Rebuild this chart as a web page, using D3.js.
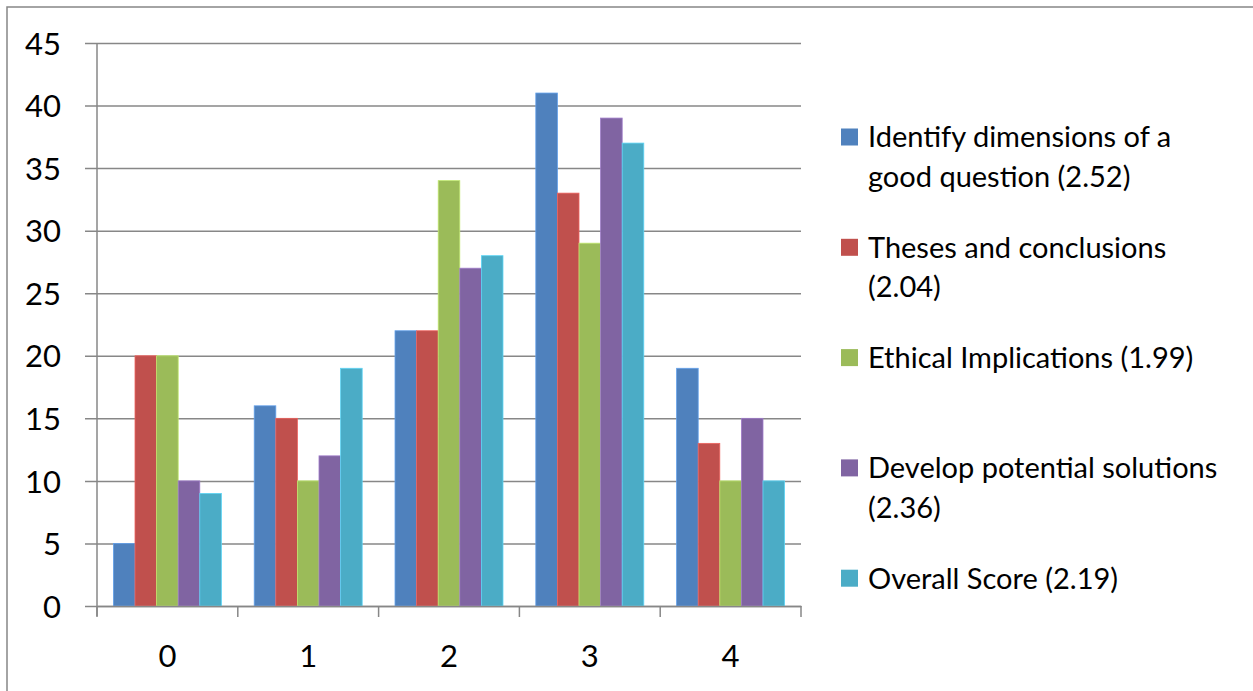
<!DOCTYPE html>
<html>
<head>
<meta charset="utf-8">
<script src="https://cdn.jsdelivr.net/npm/d3@7"></script>
<style>
  html, body { margin: 0; padding: 0; background: #fff; }
  svg { display: block; }
  text { font-family: Lato, "Open Sans", "Noto Sans", sans-serif; fill: #000; }
</style>
</head>
<body>
<svg id="chart" width="1253" height="691"></svg>
<script>
// Score levels along the x axis
const categories = ["0", "1", "2", "3", "4"];

// Number of responses per score level, one array per rubric dimension
const identifyDimensions = [5, 16, 22, 41, 19];
const thesesConclusions  = [20, 15, 22, 33, 13];
const ethicalImplications = [20, 10, 34, 29, 10];
const developSolutions   = [10, 12, 27, 39, 15];
const overallScore       = [9, 19, 28, 37, 10];

// Legend labels (with mean score)
const seriesNames = [
  ["Identify dimensions of a", "good question (2.52)"],
  ["Theses and conclusions", "(2.04)"],
  ["Ethical Implications (1.99)"],
  ["Develop potential solutions", "(2.36)"],
  ["Overall Score (2.19)"]
];

const yTicks = [0, 5, 10, 15, 20, 25, 30, 35, 40, 45];

const seriesValues = [identifyDimensions, thesesConclusions, ethicalImplications, developSolutions, overallScore];
const colors = ["#4F81BD", "#C0504D", "#9BBB59", "#8064A2", "#4BACC6"];

const svg = d3.select("#chart");
const gridColor = "#878787";

// Outer chart frame
svg.append("rect")
  .attr("x", 7).attr("y", 7)
  .attr("width", 1260).attr("height", 700)
  .attr("fill", "none")
  .attr("stroke", gridColor)
  .attr("stroke-width", 1.5);

const plot = { left: 97, right: 801, top: 43, bottom: 606 };

const x = d3.scaleBand()
  .domain(categories)
  .range([plot.left, plot.right])
  .paddingInner(0)
  .paddingOuter(0);

// Bars inside a cluster, with a 150% gap on the outside
const x1 = d3.scaleBand()
  .domain(d3.range(seriesValues.length))
  .range([0, x.bandwidth()])
  .paddingOuter(0.76)
  .paddingInner(0);

const y = d3.scaleLinear()
  .domain([0, 45])
  .range([plot.bottom, plot.top]);

// Horizontal gridlines with left tick marks
const yAxis = d3.axisLeft(y)
  .tickValues(yTicks)
  .tickSize(-(plot.right - plot.left))
  .tickSizeOuter(0)
  .tickFormat(d3.format("d"));

const gy = svg.append("g")
  .attr("transform", `translate(${plot.left},0)`)
  .call(yAxis);
gy.select(".domain").remove();
gy.selectAll(".tick line")
  .attr("x1", -12)
  .attr("stroke", gridColor)
  .attr("stroke-width", 1.5);
gy.selectAll(".tick text")
  .attr("x", -36)
  .attr("dy", "0.36em")
  .style("font-size", "31px")
  .style("font-family", "Lato, sans-serif");

// Bars
const groups = svg.append("g")
  .selectAll("g")
  .data(categories)
  .join("g")
  .attr("transform", d => `translate(${x(d)},0)`);

groups.selectAll("rect")
  .data((c, ci) => seriesValues.map((vals, si) => ({ si, v: vals[ci] })))
  .join("rect")
  .attr("x", d => x1(d.si))
  .attr("width", x1.bandwidth())
  .attr("y", d => y(d.v))
  .attr("height", d => y(0) - y(d.v))
  .attr("fill", d => colors[d.si])
  .attr("stroke", d => d3.color(colors[d.si]).brighter(0.6))
  .attr("stroke-width", 0.8);

// Vertical axis line
svg.append("line")
  .attr("x1", plot.left).attr("x2", plot.left)
  .attr("y1", plot.top).attr("y2", plot.bottom + 10)
  .attr("stroke", gridColor).attr("stroke-width", 1.5);

// Category axis
const xAxis = d3.axisBottom(x).tickSize(0).tickSizeOuter(0);
const gx = svg.append("g")
  .attr("transform", `translate(0,${plot.bottom})`)
  .call(xAxis);
gx.select(".domain").attr("stroke", gridColor).attr("stroke-width", 1.5);
gx.selectAll(".tick text")
  .attr("y", 50)
  .attr("dy", "0.36em")
  .style("font-size", "31px")
  .style("font-family", "Lato, sans-serif");

// Tick marks between categories
const boundaries = categories.map(c => x(c)).concat([x(categories[categories.length - 1]) + x.bandwidth()]);
svg.append("g")
  .selectAll("line")
  .data(boundaries)
  .join("line")
  .attr("x1", d => d).attr("x2", d => d)
  .attr("y1", plot.bottom).attr("y2", plot.bottom + 11)
  .attr("stroke", gridColor).attr("stroke-width", 1.5);

// Legend
const legend = svg.append("g");
const legendTop = 137, legendStep = 110.3, lineH = 39.5;
seriesNames.forEach((lines, i) => {
  const cy = legendTop + i * legendStep;
  legend.append("rect")
    .attr("x", 841).attr("y", cy - 8.5)
    .attr("width", 17).attr("height", 17)
    .attr("fill", colors[i]);
  const t = legend.append("text")
    .attr("x", 868)
    .attr("y", cy)
    .style("font-size", "29px");
  lines.forEach((ln, k) => {
    t.append("tspan")
      .attr("x", 868)
      .attr("dy", k === 0 ? "0.36em" : lineH)
      .text(ln);
  });
});
</script>
</body>
</html>
